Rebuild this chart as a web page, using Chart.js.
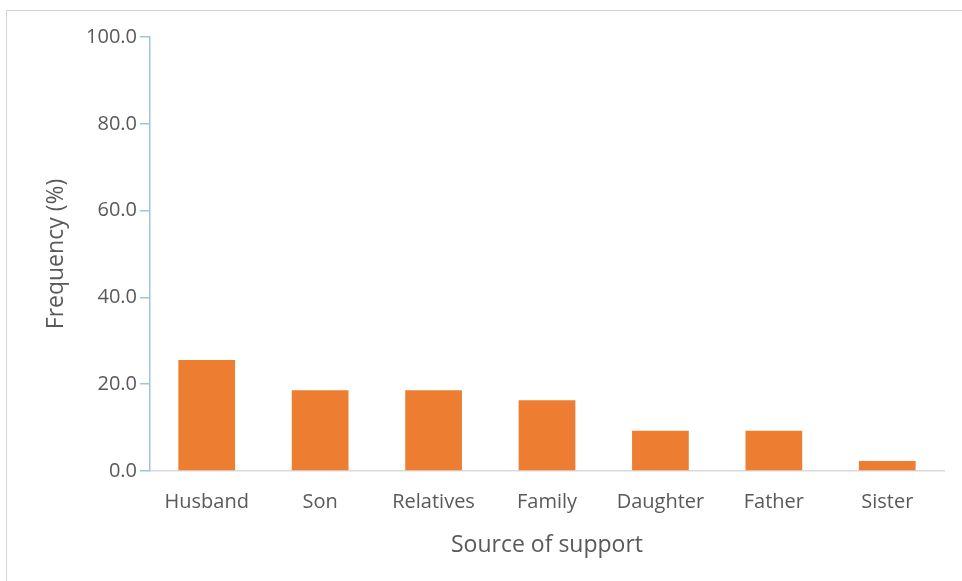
<!DOCTYPE html>
<html>
<head>
<meta charset="utf-8">
<script src="https://cdn.jsdelivr.net/npm/chart.js@4.4.1/dist/chart.umd.min.js"></script>
<style>
  html, body { margin: 0; padding: 0; background: #ffffff; }
  #wrap { position: relative; width: 962px; height: 581px; overflow: hidden; }
  #frame { position: absolute; left: 6px; top: 10px; width: 1000px; height: 700px;
           border-top: 1px solid #d4d4d4; border-left: 1px solid #d4d4d4; }
  canvas { position: absolute; left: 0; top: 0; }
</style>
</head>
<body>
<div id="wrap">
  <div id="frame"></div>
  <canvas id="c" width="962" height="581"></canvas>
</div>
<script>
const categories = ["Husband", "Son", "Relatives", "Family", "Daughter", "Father", "Sister"];
const frequency = [25.6, 18.6, 18.6, 16.3, 9.3, 9.3, 2.3];
const yTicks = [0, 20, 40, 60, 80, 100];
const xTitle = "Source of support";
const yTitle = "Frequency (%)";

const textColor = "#595959";
const fontFamily = "'Open Sans', 'Noto Sans', sans-serif";

new Chart(document.getElementById("c"), {
  type: "bar",
  data: {
    labels: categories,
    datasets: [{
      data: frequency,
      backgroundColor: "#ED7D31",
      borderWidth: 0,
      categoryPercentage: 1.0,
      barPercentage: 0.5
    }]
  },
  options: {
    responsive: false,
    animation: false,
    events: [],
    layout: { padding: { top: 37, right: 18, left: 0, bottom: 0 } },
    plugins: { legend: { display: false }, tooltip: { enabled: false } },
    scales: {
      x: {
        grid: { display: false, drawTicks: false },
        border: { display: true, color: "#d9d9d9", width: 1.5 },
        ticks: { color: textColor, font: { family: fontFamily, size: 20 }, padding: 19, maxRotation: 0 },
        title: { display: true, text: xTitle, color: textColor,
                 font: { family: fontFamily, size: 23 }, padding: { top: 0, bottom: 22 } },
        afterFit: (s) => { s.height = 110; }
      },
      y: {
        min: 0, max: 100,
        afterBuildTicks: (s) => { s.ticks = yTicks.map(v => ({ value: v })); },
        grid: { display: true, drawOnChartArea: false, drawTicks: true, tickLength: 10,
                color: "#9dc3e6", lineWidth: 1.5 },
        border: { display: true, color: "#9dc3e6", width: 1.5 },
        ticks: { color: textColor, font: { family: fontFamily, size: 20 }, padding: 3,
                 callback: (v) => Number(v).toFixed(1) },
        title: { display: true, text: yTitle, color: textColor,
                 font: { family: fontFamily, size: 23 }, padding: { top: 43, bottom: 0 } },
        afterFit: (s) => { s.width = 150; }
      }
    }
  }
});
</script>
</body>
</html>
